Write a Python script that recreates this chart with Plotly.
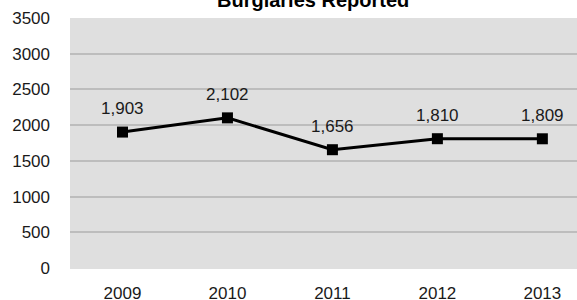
import plotly.graph_objects as go

years = ["2009", "2010", "2011", "2012", "2013"]
burglaries = [1903, 2102, 1656, 1810, 1809]
y_ticks = [0, 500, 1000, 1500, 2000, 2500, 3000, 3500]
title_text = "Burglaries Reported"

FONT = "Liberation Sans, Arial, sans-serif"
W, H = 577, 300
ML, MT, MB = 70, 18, 32
plot_h = H - MT - MB

fig = go.Figure()
fig.add_trace(go.Scatter(
    x=list(range(len(years))), y=burglaries,
    mode="lines+markers",
    line=dict(color="black", width=3),
    marker=dict(symbol="square", size=11, color="black"),
    hoverinfo="skip",
))

for i, v in enumerate(burglaries):
    fig.add_annotation(x=i, y=v, text=f"{v:,}", showarrow=False,
                       yanchor="bottom", yshift=12,
                       font=dict(family=FONT, size=17, color="#1a1a1a"))

fig.add_annotation(xref="paper", yref="paper",
                   x=(312.5 - ML) / (W - ML), y=1 + (MT - 13) / plot_h,
                   text=f"<b>{title_text}</b>", showarrow=False,
                   xanchor="center", yanchor="bottom",
                   font=dict(family=FONT, size=20, color="black"))

fig.update_layout(
    width=W, height=H,
    margin=dict(l=ML, r=0, t=MT, b=MB, pad=0, autoexpand=False),
    paper_bgcolor="white", plot_bgcolor="#dfdfdf",
    showlegend=False,
    xaxis=dict(range=[-0.5, 4.33], tickvals=list(range(len(years))), ticktext=years,
               showgrid=False, zeroline=False, showline=False, automargin=False,
               ticks="", ticklabelstandoff=13,
               tickfont=dict(family=FONT, size=17, color="#1a1a1a"), fixedrange=True),
    yaxis=dict(range=[0, 3500], tickvals=y_ticks, ticktext=[str(t) for t in y_ticks],
               showgrid=True, gridcolor="#bdbdbd", gridwidth=2, automargin=False,
               zeroline=True, zerolinecolor="#dfdfdf", zerolinewidth=1,
               showline=False, ticks="", ticklabelstandoff=19,
               tickfont=dict(family=FONT, size=17, color="#1a1a1a"), fixedrange=True),
)

fig.write_html("out.html", config={"displayModeBar": False},
               post_script="document.body.style.margin='0';document.body.style.overflow='hidden';")
